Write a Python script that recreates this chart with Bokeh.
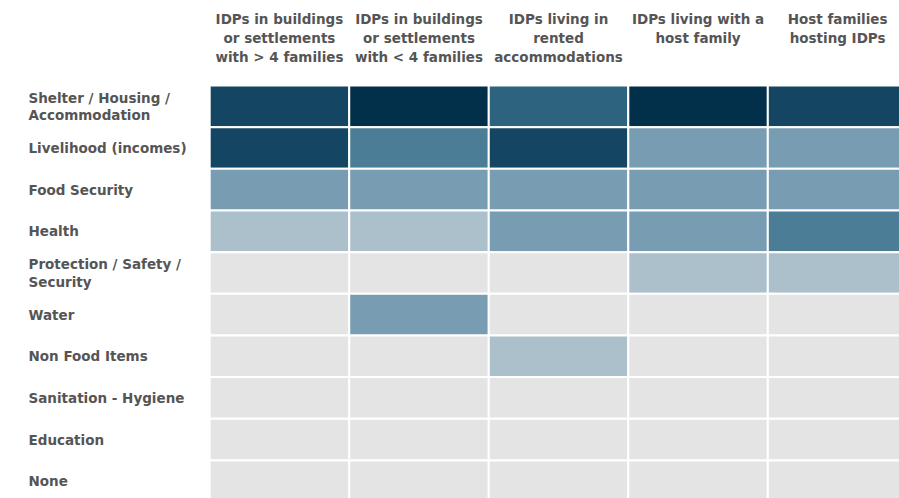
from bokeh.plotting import figure
from bokeh.models import ColumnDataSource, Range1d, LinearColorMapper
from bokeh.transform import transform
from bokeh.core.properties import value
from bokeh.embed import file_html
from bokeh.resources import INLINE

# ---------------- data ----------------
columns = [
    "IDPs in buildings\nor settlements\nwith > 4 families",
    "IDPs in buildings\nor settlements\nwith < 4 families",
    "IDPs living in\nrented\naccommodations",
    "IDPs living with a\nhost family",
    "Host families\nhosting IDPs",
]
rows = [
    "Shelter / Housing /\nAccommodation",
    "Livelihood (incomes)",
    "Food Security",
    "Health",
    "Protection / Safety /\nSecurity",
    "Water",
    "Non Food Items",
    "Sanitation - Hygiene",
    "Education",
    "None",
]
# intensity level per row (0 = not mentioned ... 6 = highest), one list per column
col1 = [5, 5, 2, 1, 0, 0, 0, 0, 0, 0]
col2 = [6, 3, 2, 1, 0, 2, 0, 0, 0, 0]
col3 = [4, 5, 2, 2, 0, 0, 1, 0, 0, 0]
col4 = [6, 2, 2, 2, 1, 0, 0, 0, 0, 0]
col5 = [5, 2, 2, 3, 1, 0, 0, 0, 0, 0]
palette = ["#E4E4E4", "#ABC0CA", "#789DB2", "#4B7D96", "#2D637E", "#144663", "#022F4A"]

# ---------------- layout constants (pixels) ----------------
W, H = 899, 498
GRID_LEFT, GRID_TOP = 209.2, 85.0
COL_W, ROW_H = 139.53, 41.66
ROW_LABEL_X = 28
HEADER_TOP = 10
TEXT_COLOR = "#555555"
FONT = "DejaVu Sans"

series = [col1, col2, col3, col4, col5]
xs, ys, vals = [], [], []
for ci, s in enumerate(series):
    for ri, v in enumerate(s):
        xs.append(ci + 0.5)
        ys.append(ri + 0.5)
        vals.append(v)
cells = ColumnDataSource(dict(x=xs, y=ys, v=vals))

p = figure(
    width=W, height=H, output_backend="svg", toolbar_location=None,
    x_range=Range1d(-GRID_LEFT / COL_W, (W - GRID_LEFT) / COL_W),
    y_range=Range1d((H - GRID_TOP) / ROW_H, -GRID_TOP / ROW_H),
    min_border=0, x_axis_type=None, y_axis_type=None,
)
p.outline_line_color = None
p.xgrid.visible = False
p.ygrid.visible = False
p.background_fill_color = "white"
p.border_fill_color = "white"

mapper = LinearColorMapper(palette=palette, low=-0.5, high=6.5)
p.rect(x="x", y="y", width=1, height=1, source=cells,
       fill_color=transform("v", mapper), line_color="white", line_width=2)

# row labels
row_src = ColumnDataSource(dict(x=[0] * len(rows), y=[i + 0.5 for i in range(len(rows))], t=rows))
p.text(x="x", y="y", text="t", source=row_src, x_offset=-(GRID_LEFT - ROW_LABEL_X),
       text_align="left", text_baseline="middle", text_font=value(FONT),
       text_font_style="bold", text_font_size="13.5px", text_color=TEXT_COLOR,
       text_line_height=1.08)

# column headers
col_src = ColumnDataSource(dict(x=[i + 0.5 for i in range(len(columns))], y=[0] * len(columns), t=columns))
p.text(x="x", y="y", text="t", source=col_src, y_offset=-(GRID_TOP - HEADER_TOP),
       text_align="center", text_baseline="top", text_font=value(FONT),
       text_font_style="bold", text_font_size="13.5px", text_color=TEXT_COLOR,
       text_line_height=1.21)

open("out.html", "w").write(file_html(p, INLINE))
